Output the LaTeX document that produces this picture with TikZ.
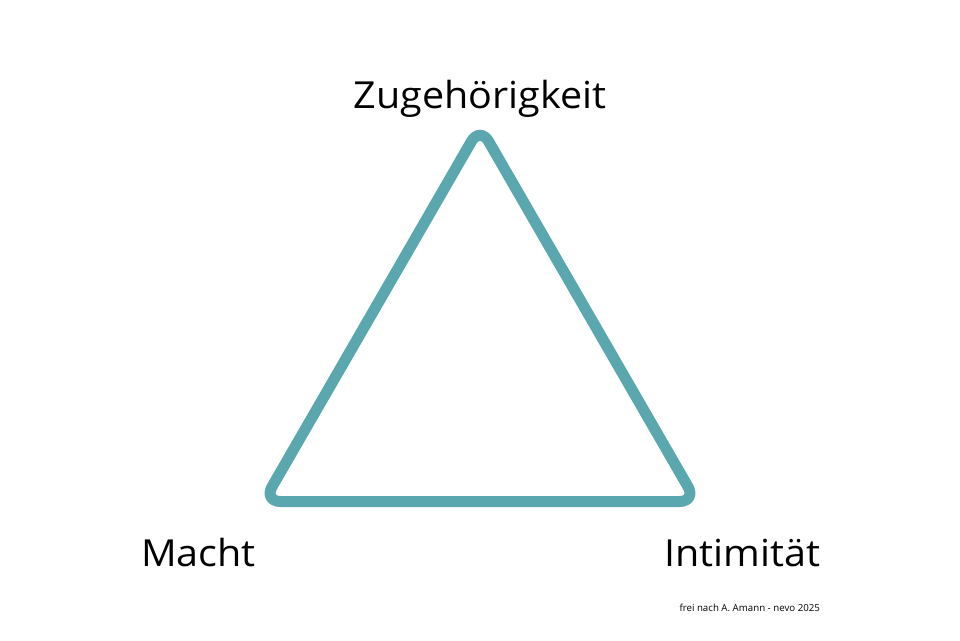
\documentclass[tikz,border=0pt]{standalone}
\usepackage{fontspec}
\setmainfont[FakeStretch=1.06]{Open Sans}
\newfontfamily\srcfont{Open Sans}
\usepackage{tikz}
\definecolor{nevoTeal}{RGB}{90,167,176}

\begin{document}
\begin{tikzpicture}[x=0.025cm, y=-0.025cm]%
  \tikzset{triangle line/.style={draw, line width=0.275cm, nevoTeal, rounded corners=0.43cm, line join=round}}
  \tikzstyle{every node}=[draw=none, text=black, inner sep=0pt, outer sep=0pt, font=\fontsize{26.5}{32}\selectfont]
  \useasboundingbox (0,0) rectangle (960,640);

  \coordinate (TOP) at (480,126.5);
  \coordinate (LEFT) at (263.5,501.5);
  \coordinate (RIGHT) at (696.5,501.5);

  \node[anchor=base] at (480,108) (ZUG) {Zugehörigkeit};
  \node[anchor=base west] at (141,566) (MACHT) {Macht};
  \node[anchor=base east] at (820,566) (INT) {Intimität};
  \node[anchor=base east, font=\srcfont\fontsize{6.9}{9}\selectfont] at (820,611) (SRC) {frei nach A. Amann - nevo 2025};

  \path[triangle line] (TOP) -- (RIGHT) -- (LEFT) -- cycle;
\end{tikzpicture}
\end{document}
